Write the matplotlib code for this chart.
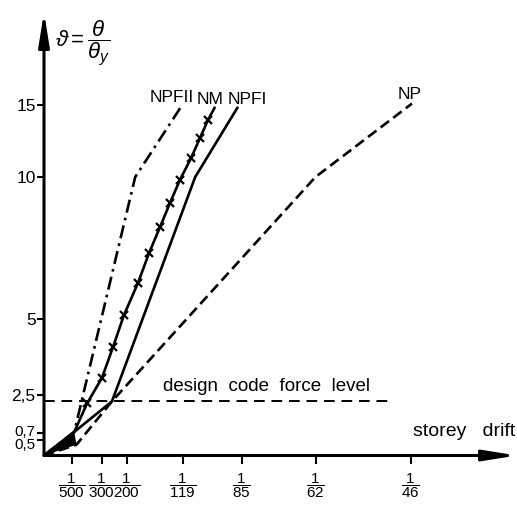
import numpy as np
import matplotlib
matplotlib.use("Agg")
import matplotlib.pyplot as plt
from matplotlib.transforms import ScaledTranslation

# ductility values on the y axis and storey drift ratios on the x axis
y_ticks = [0.5, 0.7, 2.5, 5, 10, 15]
y_tick_labels = ["0,5", "0,7", "2,5", "5", "10", "15"]
drift_denoms = [500, 300, 200, 119, 85, 62, 46]
design_level = 2.2

# curves (storey drift, ductility)
npf2_drift = [0, 0.0021, 0.0055, 0.0083]
npf2_duct = [0, 0.75, 10.0, 14.9]

nm_drift = [0, 0.0021, 0.00267, 0.00333, 0.00407, 0.0048, 0.00567, 0.00634,
            0.00701, 0.00761, 0.00822, 0.00886, 0.00937, 0.00983, 0.0102]
nm_duct = [0, 0.75, 2.1, 3.06, 4.08, 5.14, 6.27, 7.32,
           8.24, 9.08, 9.9, 11.3, 12.7, 13.96, 14.8]

npf1_drift = [0, 0.0021, 0.0040, 0.0091, 0.0115]
npf1_duct = [0, 0.75, 2.2, 10.0, 14.8]

np_drift = [0, 0.0022, 0.0040, 0.0161, 0.0218]
np_duct = [0, 0.35, 2.2, 10.0, 15.1]

# the hand drawn axes are not evenly spaced: piecewise scales
x_knots = [0, 1/500, 1/300, 1/200, 1/119, 1/85, 1/62, 1/46, 0.03]
x_pos = [0, 28, 58, 83, 139, 198, 272, 367, 507]
y_knots = [0, 0.5, 0.7, 2.5, 5, 10, 15, 25]
y_pos = [0, 15.5, 22.5, 60.5, 136.5, 278.5, 350.5, 494.5]


def fx(v):
    return np.interp(v, x_knots, x_pos)


def fx_inv(p):
    return np.interp(p, x_pos, x_knots)


def fy(v):
    return np.interp(v, y_knots, y_pos)


def fy_inv(p):
    return np.interp(p, y_pos, y_knots)


plt.rcParams["font.family"] = ["Liberation Sans", "DejaVu Sans"]
plt.rcParams["mathtext.fontset"] = "custom"
plt.rcParams["mathtext.rm"] = "Liberation Sans"
plt.rcParams["mathtext.it"] = "Liberation Sans:italic"
plt.rcParams["mathtext.fallback"] = "stixsans"

fig = plt.figure(figsize=(5.17, 5.07), dpi=100)
ax = fig.add_axes([44/517, 51.5/507, 473/517, 443.5/507])
ax.set_xscale("function", functions=(fx, fx_inv))
ax.set_yscale("function", functions=(fy, fy_inv))
ax.set_xlim(0, 0.028)
ax.set_ylim(0, 21.46)

for s in ax.spines.values():
    s.set_visible(False)

# axes as arrows
arrow = dict(arrowstyle="-|>,head_length=1.0,head_width=0.16", lw=2.2,
             color="k", shrinkA=0, shrinkB=0, mutation_scale=20)
ax.annotate("", xy=(1.0, 0), xytext=(0, 0), xycoords="axes fraction",
            textcoords="axes fraction", arrowprops=arrow, annotation_clip=False)
ax.annotate("", xy=(0, 1.0), xytext=(0, 0), xycoords="axes fraction",
            textcoords="axes fraction", arrowprops=arrow, annotation_clip=False)

ax.set_xticks([1/d for d in drift_denoms])
ax.set_xticklabels([r"$\dfrac{\mathrm{1}}{\mathrm{%d}}$" % d for d in drift_denoms],
                   fontsize=11)
ax.set_yticks(y_ticks)
ax.set_yticklabels(y_tick_labels, fontsize=12.5)
ax.minorticks_off()
ax.tick_params(axis="x", direction="out", length=6, width=1.5, pad=5)
ax.tick_params(axis="y", direction="out", length=5, width=1.5, pad=1)

# the two small labels sit close together, as in the drawing
ylabs = ax.get_yticklabels()
for lab, shift in [(ylabs[0], -3), (ylabs[1], 3)]:
    lab.set_fontsize(11)
    lab.set_transform(lab.get_transform() +
                      ScaledTranslation(0, shift / 100, fig.dpi_scale_trans))

lw = 1.9
# yield wedge where the curves overlap
ax.fill([0, nm_drift[1], np_drift[1]], [0, nm_duct[1], np_duct[1]],
        color="k", lw=0)

ax.plot(npf2_drift, npf2_duct, color="k", lw=lw, dashes=(5, 2, 1, 2))
ax.plot(nm_drift, nm_duct, color="k", lw=lw)
ax.plot(nm_drift[2:-1], nm_duct[2:-1], ls="none", marker="x", ms=6,
        mew=1.6, color="k")
ax.plot(npf1_drift, npf1_duct, color="k", lw=lw)
ax.plot(np_drift, np_duct, color="k", lw=lw, dashes=(4, 2))

ax.plot([0, 0.0206], [design_level, design_level], color="k", lw=1.4,
        dashes=(5.5, 3.5))
ax.text(0.0072, 2.5, "design  code  force  level", fontsize=13.5,
        ha="left", va="bottom")

# curve labels at the end of each curve
for name, xs, ys, dx in [("NPFII", npf2_drift, npf2_duct, -7),
                         ("NM", nm_drift, nm_duct, -3),
                         ("NPFI", npf1_drift, npf1_duct, 7),
                         ("NP", np_drift, np_duct, -2)]:
    ax.annotate(name, xy=(xs[-1], ys[-1]), xytext=(dx, 1),
                textcoords="offset points", ha="center", va="bottom",
                fontsize=12.5, annotation_clip=False)

ax.text(0.0279, 0.75, "storey   drift", fontsize=14, ha="right", va="center")
ax.text(0.0008, 19.3, r"$\vartheta = \dfrac{\theta}{\theta_y}$", fontsize=16,
        ha="left", va="center")

fig.savefig("out.png", dpi=100)
